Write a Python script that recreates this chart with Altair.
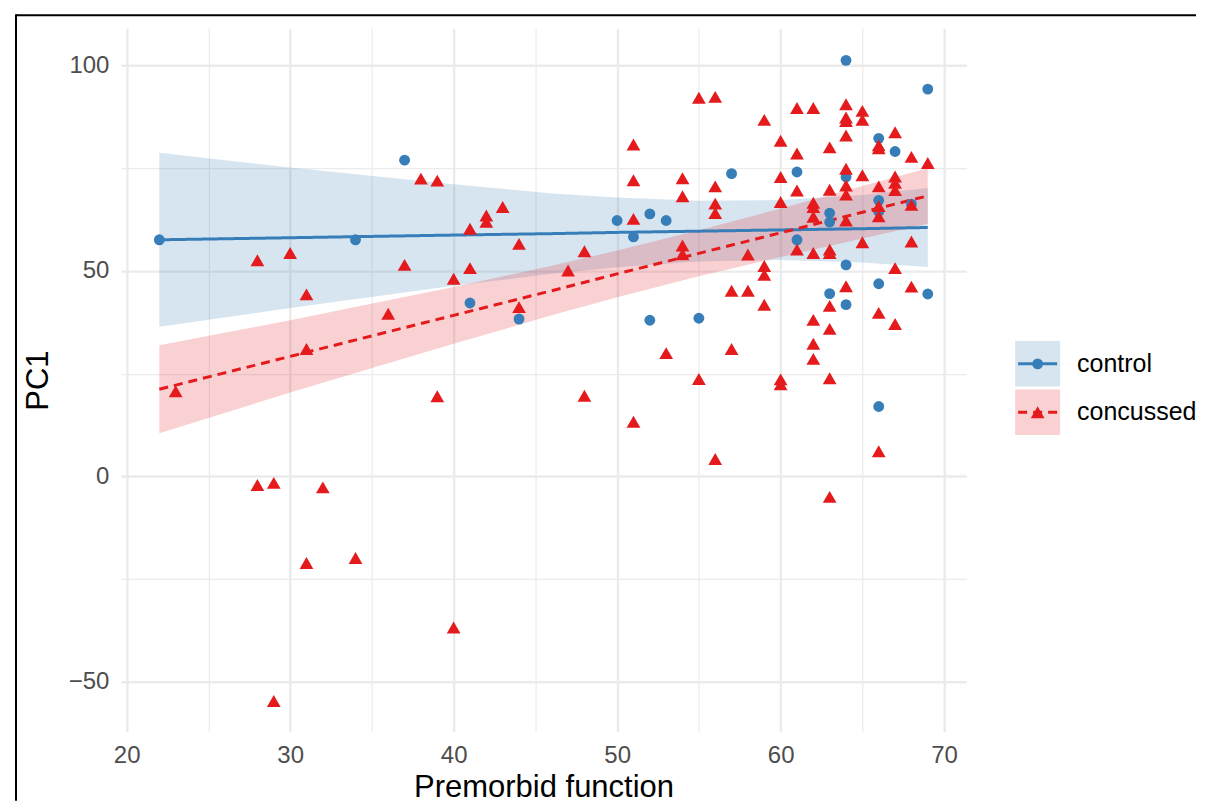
import altair as alt
import pandas as pd

groups = ["control", "concussed"]
colors = ["#377EB8", "#E41A1C"]

ctrl_x = [22, 34, 37, 41, 44, 50, 51, 52, 52, 53, 55, 57, 61, 61, 63, 63, 63,
          64, 64, 64, 64, 66, 66, 66, 66, 66, 67, 68, 69, 69]
ctrl_y = [57.6, 57.6, 77.0, 42.2, 38.3, 62.3, 58.3, 63.9, 38.0, 62.3, 38.5, 73.7,
          74.1, 57.6, 64.1, 61.9, 44.5, 101.3, 72.9, 51.5, 41.8, 82.3, 67.2, 64.5,
          46.9, 17.0, 79.1, 66.3, 94.3, 44.4]

conc_x = [23, 28, 28, 29, 29, 30, 31, 31, 31, 32, 34, 36, 37, 38, 39, 39, 40, 40,
          41, 41, 42, 42, 43, 44, 44, 47, 48, 48,
          51, 51, 51, 51,
          53,
          54, 54, 54, 54,
          55, 55,
          56, 56, 56, 56, 56,
          57, 57,
          58, 58,
          59, 59, 59, 59,
          60, 60, 60, 60, 60,
          61, 61, 61, 61,
          62, 62, 62, 62, 62, 62, 62, 62,
          63, 63, 63, 63, 63, 63, 63, 63,
          64, 64, 64, 64, 64, 64, 64, 64, 64,
          65, 65, 65, 65,
          66, 66, 66, 66, 66, 66, 66,
          67, 67, 67, 67, 67, 67,
          68, 68, 68, 68,
          69]
conc_y = [20.7, 52.6, -2.1, -1.6, -54.7, 54.4, 44.3, 31.0, -21.1, -2.7, -19.9, 39.6,
          51.5, 72.5, 72.0, 19.5, 48.1, -36.8, 60.3, 50.7, 63.5, 62.0, 65.6, 56.6,
          41.2, 50.1, 54.8, 19.6,
          80.8, 72.1, 62.7, 13.3,
          30.0,
          72.6, 68.2, 56.2, 54.1,
          92.2, 23.7,
          92.4, 70.6, 66.4, 64.1, 4.2,
          45.2, 31.0,
          54.0, 45.2,
          86.8, 51.2, 49.1, 41.8,
          81.7, 72.9, 66.8, 23.6, 22.4,
          89.7, 78.6, 69.6, 55.2,
          89.7, 66.6, 65.6, 63.2, 54.4, 38.1, 32.3, 28.6,
          80.1, 69.8, 55.2, 54.4, 41.5, 35.9, 23.9, -5.0,
          90.6, 87.4, 86.5, 83.0, 74.9, 70.8, 68.6, 62.3, 46.3,
          89.0, 86.8, 73.3, 57.0,
          80.6, 79.9, 70.6, 65.8, 63.3, 39.8, 6.1,
          83.8, 73.0, 71.5, 69.7, 50.7, 37.1,
          77.8, 66.1, 57.2, 46.2,
          76.3]

# fitted lines and confidence bands
band_x = [22, 30, 40, 46, 50, 55, 60, 65, 69]
ctrl_fit = [57.6, 58.1, 58.75, 59.1, 59.4, 59.7, 60.0, 60.3, 60.6]
ctrl_hi = [78.8, 75.2, 71.1, 68.9, 67.9, 67.1, 67.3, 68.5, 70.2]
ctrl_lo = [36.4, 41.0, 46.4, 49.3, 50.9, 52.3, 52.7, 52.1, 51.0]
conc_fit = [21.2, 29.2, 39.2, 45.2, 49.3, 54.3, 59.3, 64.3, 68.3]
conc_hi = [31.9, 38.0, 46.1, 51.3, 55.0, 59.9, 65.2, 70.7, 75.0]
conc_lo = [10.5, 20.4, 32.3, 39.2, 43.6, 48.7, 53.4, 57.9, 61.5]

x_ticks = [20, 25, 30, 35, 40, 45, 50, 55, 60, 65, 70]
y_ticks = [-50, -25, 0, 25, 50, 75, 100]
x_domain = [19.65, 71.35]
y_domain = [-62.2, 109.1]

pts = pd.DataFrame({
    "x": ctrl_x + conc_x,
    "y": ctrl_y + conc_y,
    "group": ["control"] * len(ctrl_x) + ["concussed"] * len(conc_x),
})
fit_df = pd.DataFrame({
    "x": band_x + band_x,
    "fit": ctrl_fit + conc_fit,
    "lo": ctrl_lo + conc_lo,
    "hi": ctrl_hi + conc_hi,
    "group": ["control"] * len(band_x) + ["concussed"] * len(band_x),
})

FONT = "Liberation Sans"
color_scale = alt.Scale(domain=groups, range=colors)
shape_scale = alt.Scale(domain=groups, range=["circle", "triangle-up"])
size_scale = alt.Scale(domain=groups, range=[118, 190])
dash_scale = alt.Scale(domain=groups, range=[[1, 0], [9, 6]])
xs = alt.Scale(domain=x_domain, nice=False, zero=False)
ys = alt.Scale(domain=y_domain, nice=False, zero=False)

x_axis = alt.Axis(values=x_ticks, title="Premorbid function",
                  labelExpr="datum.value % 10 === 0 ? datum.label : ''",
                  gridWidth={"condition": {"test": "datum.value % 10 === 0", "value": 2.4}, "value": 1.2},
                  labelPadding=12, titlePadding=4.5)
y_axis = alt.Axis(values=y_ticks, title="PC1",
                  labelExpr="datum.value % 50 === 0 ? datum.label : ''",
                  gridWidth={"condition": {"test": "datum.value % 50 === 0", "value": 2.4}, "value": 1.2},
                  labelPadding=12, titlePadding=14)

base_fit = alt.Chart(fit_df)
ribbon = base_fit.mark_area(opacity=0.2).encode(
    x=alt.X("x:Q", scale=xs, axis=x_axis),
    y=alt.Y("lo:Q", scale=ys, axis=y_axis),
    y2="hi:Q",
    color=alt.Color("group:N", scale=color_scale, legend=None),
)
lines = base_fit.mark_line(strokeWidth=3).encode(
    x=alt.X("x:Q", scale=xs),
    y=alt.Y("fit:Q", scale=ys),
    color=alt.Color("group:N", scale=color_scale, legend=None),
    strokeDash=alt.StrokeDash("group:N", scale=dash_scale, legend=None),
)
points = alt.Chart(pts).mark_point(filled=True, opacity=1).encode(
    x=alt.X("x:Q", scale=xs),
    y=alt.Y("y:Q", scale=ys),
    color=alt.Color("group:N", scale=color_scale, legend=None),
    shape=alt.Shape("group:N", scale=shape_scale, legend=None),
    size=alt.Size("group:N", scale=size_scale, legend=None),
)

one = pd.DataFrame({"a": [0]})
border_top = alt.Chart(one).mark_rule(color="black", strokeWidth=2).encode(
    x=alt.value(-105), x2=alt.value(1076), y=alt.value(-13))
border_left = alt.Chart(one).mark_rule(color="black", strokeWidth=2).encode(
    x=alt.value(-105), y=alt.value(-14), y2=alt.value(773))

main = alt.layer(ribbon, lines, points, border_top, border_left).properties(
    width=846, height=704)

leg_df = pd.DataFrame({"group": groups})
leg_y = alt.Y("group:N", scale=alt.Scale(type="band", domain=groups, range=[313, 407],
                                        paddingInner=0.06, paddingOuter=0), axis=None)
leg_base = alt.Chart(leg_df)
leg_rect = leg_base.mark_rect(opacity=0.2).encode(
    x=alt.value(0), x2=alt.value(45), y=leg_y,
    color=alt.Color("group:N", scale=color_scale, legend=None))
leg_line = leg_base.mark_rule(strokeWidth=3).encode(
    x=alt.value(3), x2=alt.value(42), y=leg_y,
    color=alt.Color("group:N", scale=color_scale, legend=None),
    strokeDash=alt.StrokeDash("group:N", scale=alt.Scale(domain=groups, range=[[1, 0], [5, 5]]), legend=None))
leg_pt = leg_base.mark_point(filled=True, opacity=1).encode(
    x=alt.value(22.5), y=leg_y,
    color=alt.Color("group:N", scale=color_scale, legend=None),
    shape=alt.Shape("group:N", scale=shape_scale, legend=None),
    size=alt.Size("group:N", scale=alt.Scale(domain=groups, range=[110, 150]), legend=None))
leg_txt = leg_base.mark_text(align="left", baseline="middle", fontSize=25,
                             font=FONT, color="black").encode(
    x=alt.value(62), y=leg_y, text="group:N")
legend = alt.layer(leg_rect, leg_line, leg_pt, leg_txt).properties(width=182, height=704)

chart = alt.hconcat(main, legend, spacing=49, bounds="flush").properties(
    padding={"left": 6, "top": 4, "right": 0, "bottom": 0}
).configure_view(stroke="transparent").configure_axis(
    labelFont=FONT, titleFont=FONT,
    labelFontSize=24, titleFontSize=31, labelColor="#4D4D4D", titleColor="black",
    titleFontWeight="normal", domain=False, ticks=False, tickSize=0,
    gridColor="#EBEBEB",
)

chart.save("out.html", embed_options={"renderer": "svg", "actions": False})
